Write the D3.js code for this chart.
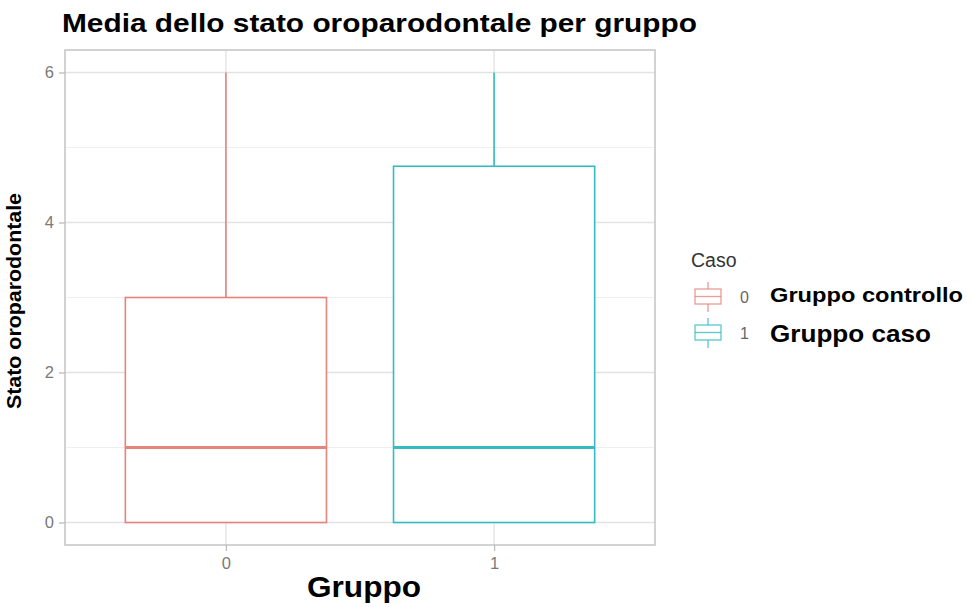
<!DOCTYPE html>
<html>
<head>
<meta charset="utf-8">
<script src="https://cdn.jsdelivr.net/npm/d3@7"></script>
<style>
  html, body { margin: 0; padding: 0; background: #fff; }
  svg { display: block; }
</style>
</head>
<body>
<script>
// Box-plot summaries per group (Caso 0 = controllo, 1 = caso)
const groups = ["0", "1"];
const lowerWhisker = [0, 0];
const q1 = [0, 0];
const medians = [1, 1];
const q3 = [3, 4.75];
const upperWhisker = [6, 6];
const yTicks = [0, 2, 4, 6];
const yMinor = [1, 3, 5];
const legendNames = ["Gruppo controllo", "Gruppo caso"];
const colors = ["#E5847C", "#34BCC0"];

const W = 980, H = 607;
const panel = { left: 65, right: 655, top: 50, bottom: 545 };
const SANS = "Liberation Sans, Arial, Helvetica, sans-serif";

const svg = d3.select("body").append("svg").attr("width", W).attr("height", H);

// discrete x positions with ggplot-like expansion (0.6 units each side)
const xLin = d3.scaleLinear().domain([0.4, 2.6]).range([panel.left, panel.right]);
const x = g => xLin(groups.indexOf(g) + 1);
const boxHalf = (xLin(1.75) - xLin(1)) / 2;

const y = d3.scaleLinear().domain([-0.3, 6.3]).range([panel.bottom, panel.top]);

// minor grid
svg.append("g").selectAll("line").data(yMinor).join("line")
  .attr("x1", panel.left).attr("x2", panel.right)
  .attr("y1", d => y(d)).attr("y2", d => y(d))
  .attr("stroke", "#efefef").attr("stroke-width", 1);

// major grid
svg.append("g").selectAll("line").data(yTicks).join("line")
  .attr("x1", panel.left).attr("x2", panel.right)
  .attr("y1", d => y(d)).attr("y2", d => y(d))
  .attr("stroke", "#e2e2e2").attr("stroke-width", 1.3);
svg.append("g").selectAll("line").data(groups).join("line")
  .attr("x1", d => x(d)).attr("x2", d => x(d))
  .attr("y1", panel.top).attr("y2", panel.bottom)
  .attr("stroke", "#e2e2e2").attr("stroke-width", 1.3);

// boxes
const boxes = svg.append("g").selectAll("g").data(groups).join("g");
boxes.append("line")
  .attr("x1", d => x(d)).attr("x2", d => x(d))
  .attr("y1", (d, i) => y(q3[i])).attr("y2", (d, i) => y(upperWhisker[i]))
  .attr("stroke", (d, i) => colors[i]).attr("stroke-width", 1.6);
boxes.append("line")
  .attr("x1", d => x(d)).attr("x2", d => x(d))
  .attr("y1", (d, i) => y(q1[i])).attr("y2", (d, i) => y(lowerWhisker[i]))
  .attr("stroke", (d, i) => colors[i]).attr("stroke-width", 1.6);
boxes.append("rect")
  .attr("x", d => x(d) - boxHalf).attr("width", boxHalf * 2)
  .attr("y", (d, i) => y(q3[i])).attr("height", (d, i) => y(q1[i]) - y(q3[i]))
  .attr("fill", "#fff").attr("stroke", (d, i) => colors[i]).attr("stroke-width", 1.6);
boxes.append("line")
  .attr("x1", d => x(d) - boxHalf).attr("x2", d => x(d) + boxHalf)
  .attr("y1", (d, i) => y(medians[i])).attr("y2", (d, i) => y(medians[i]))
  .attr("stroke", (d, i) => colors[i]).attr("stroke-width", 2.8);

// panel border
svg.append("rect")
  .attr("x", panel.left).attr("y", panel.top)
  .attr("width", panel.right - panel.left).attr("height", panel.bottom - panel.top)
  .attr("fill", "none").attr("stroke", "#c4c4c4").attr("stroke-width", 1.5);

// y axis
const yAxis = svg.append("g").attr("transform", `translate(${panel.left},0)`)
  .call(d3.axisLeft(y).tickValues(yTicks).tickSize(6).tickPadding(5).tickFormat(d3.format("d")));
yAxis.select(".domain").remove();
yAxis.selectAll(".tick line").attr("stroke", "#bdbdbd").attr("stroke-width", 1.3);
yAxis.selectAll(".tick text").attr("fill", "#7a7a7a")
  .style("font-family", SANS).style("font-size", "16.5px");

// x axis
const xAxis = svg.append("g").attr("transform", `translate(0,${panel.bottom})`)
  .call(d3.axisBottom(xLin).tickValues([1, 2]).tickSize(6).tickPadding(6)
    .tickFormat(d => groups[d - 1]));
xAxis.select(".domain").remove();
xAxis.selectAll(".tick line").attr("stroke", "#bdbdbd").attr("stroke-width", 1.3);
xAxis.selectAll(".tick text").attr("fill", "#7a7a7a")
  .style("font-family", SANS).style("font-size", "16.5px");

// title
svg.append("text").attr("x", 62).attr("y", 32)
  .style("font-family", SANS).style("font-weight", "700").style("font-size", "26px")
  .attr("textLength", 635).attr("lengthAdjust", "spacingAndGlyphs")
  .attr("fill", "#000").text("Media dello stato oroparodontale per gruppo");

// axis titles
svg.append("text")
  .attr("transform", `translate(21,301) rotate(-90)`)
  .attr("text-anchor", "middle")
  .style("font-family", SANS).style("font-weight", "700").style("font-size", "20px")
  .attr("textLength", 216).attr("lengthAdjust", "spacingAndGlyphs")
  .text("Stato oroparodontale");
svg.append("text").attr("x", 364).attr("y", 597)
  .attr("text-anchor", "middle")
  .style("font-family", SANS).style("font-weight", "700").style("font-size", "30px")
  .attr("textLength", 114).attr("lengthAdjust", "spacingAndGlyphs")
  .text("Gruppo");

// legend
const lg = svg.append("g");
lg.append("text").attr("x", 691).attr("y", 267)
  .style("font-family", SANS).style("font-size", "19.5px").attr("fill", "#333")
  .text("Caso");
const keyTop = [282, 318];
const labelSizes = [21, 23.5];
const labelWidths = [193, 161];
const labelBase = [302, 342];
groups.forEach((g, i) => {
  const k = lg.append("g").attr("transform", `translate(694,${keyTop[i]})`);
  const c = colors[i];
  k.append("line").attr("x1", 14).attr("x2", 14).attr("y1", 0).attr("y2", 7).attr("stroke", c).attr("stroke-width", 1.3).attr("opacity", 0.8);
  k.append("line").attr("x1", 14).attr("x2", 14).attr("y1", 22).attr("y2", 30).attr("stroke", c).attr("stroke-width", 1.3).attr("opacity", 0.8);
  k.append("rect").attr("x", 1).attr("y", 7).attr("width", 26).attr("height", 15).attr("fill", "#fff").attr("stroke", c).attr("stroke-width", 1.3).attr("opacity", 0.8);
  k.append("line").attr("x1", 1).attr("x2", 27).attr("y1", 14.5).attr("y2", 14.5).attr("stroke", c).attr("stroke-width", 1.3).attr("opacity", 0.8);
  lg.append("text").attr("x", 740).attr("y", keyTop[i] + 21)
    .style("font-family", SANS).style("font-size", "16px").attr("fill", "#666")
    .text(g);
  lg.append("text").attr("x", 770).attr("y", labelBase[i])
    .style("font-family", SANS).style("font-weight", "700").style("font-size", labelSizes[i] + "px")
    .attr("textLength", labelWidths[i]).attr("lengthAdjust", "spacingAndGlyphs")
    .attr("fill", "#000").text(legendNames[i]);
});
</script>
</body>
</html>
